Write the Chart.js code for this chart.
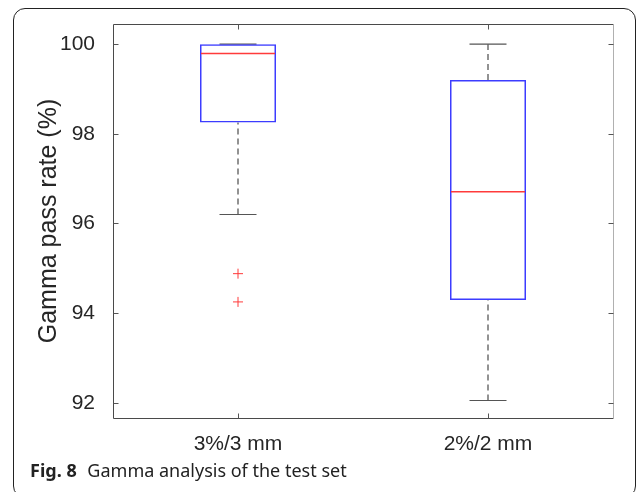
<!DOCTYPE html>
<html>
<head>
<meta charset="utf-8">
<script src="https://cdn.jsdelivr.net/npm/chart.js@4.4.1/dist/chart.umd.min.js"></script>
<style>
  html, body { margin: 0; padding: 0; background: #fff; width: 637px; height: 492px; overflow: hidden; }
  #frame {
    position: absolute; left: 13px; top: 8px; width: 623px; height: 490px;
    border: 1.5px solid #222; border-radius: 12px; box-sizing: border-box;
  }
  #wrap { position: absolute; left: 0; top: 0; width: 637px; height: 460px; }
  #caption {
    position: absolute; left: 30px; top: 460px;
    font-family: 'Noto Sans', 'Open Sans', sans-serif; font-size: 18px; line-height: 20px;
    color: #222; white-space: nowrap;
  }
  #caption b { font-weight: 700; margin-right: 6px; }
</style>
</head>
<body>
<div id="frame"></div>
<div id="wrap"><canvas id="gammaChart"></canvas></div>
<div id="caption"><b>Fig. 8</b> Gamma analysis of the test set</div>
<script>
// Box plot data
const categories = ['3%/3 mm', '2%/2 mm'];
const q1 = [98.25, 94.29];
const q3 = [100.0, 99.20];
const medians = [99.79, 96.71];
const whiskerLow = [96.20, 92.05];
const whiskerHigh = [100.0, 100.0];
const outliers = [[94.88, 94.25], []];
const yTicks = [92, 94, 96, 98, 100];

const axisFont = "'Liberation Sans', Arial, Helvetica, sans-serif";
const boxBlue = '#3c3cff';
const medianRed = '#ff3b3b';
const whiskerGray = '#6e6e6e';

// whisker segments, one dataset each (dashed)
const whiskerSets = [];
categories.forEach(function(c, i) {
    [[whiskerLow[i], q1[i]], [q3[i], whiskerHigh[i]]].forEach(function(seg) {
        whiskerSets.push({
            type: 'line',
            data: [{ x: c, y: seg[0] }, { x: c, y: seg[1] }],
            borderColor: whiskerGray,
            borderWidth: 1.5,
            borderDash: [6, 4],
            pointRadius: 0,
            order: 6
        });
    });
});

const outlierPoints = [];
categories.forEach(function(c, i) {
    outliers[i].forEach(function(v) { outlierPoints.push({ x: c, y: v }); });
});

// drop the extra room Chart.js reserves for tick label overflow
function noPad(scale) {
    scale.paddingTop = 0; scale.paddingBottom = 0;
    scale.paddingLeft = 0; scale.paddingRight = 0;
}

// MATLAB style axes box + inward ticks
const axesBox = {
    id: 'axesBox',
    afterDatasetsDraw(chart) {
        const ctx = chart.ctx;
        const a = chart.chartArea;
        const ys = chart.scales.y;
        const xs = chart.scales.x;
        const L = Math.round(a.left) + 0.5, R = Math.round(a.right) + 0.5;
        const T = Math.round(a.top) + 0.5, B = Math.round(a.bottom) + 0.5;
        ctx.save();
        ctx.lineWidth = 1;
        ctx.strokeStyle = '#4a4a4a';
        ctx.beginPath();
        ctx.moveTo(R, T); ctx.lineTo(L, T); ctx.lineTo(L, B); ctx.lineTo(R, B);
        ctx.stroke();
        ctx.strokeStyle = '#b0b0b0';
        ctx.beginPath();
        ctx.moveTo(R, T); ctx.lineTo(R, B);
        ctx.stroke();
        ctx.strokeStyle = '#555';
        ctx.beginPath();
        yTicks.forEach(function(v) {
            const y = Math.round(ys.getPixelForValue(v)) + 0.5;
            ctx.moveTo(L, y); ctx.lineTo(L + 5, y);
            ctx.moveTo(R, y); ctx.lineTo(R - 5, y);
        });
        categories.forEach(function(c, i) {
            const x = Math.round(xs.getPixelForValue(i)) + 0.5;
            ctx.moveTo(x, B); ctx.lineTo(x, B - 5);
            ctx.moveTo(x, T); ctx.lineTo(x, T + 5);
        });
        ctx.stroke();
        ctx.restore();
    }
};

new Chart(document.getElementById('gammaChart'), {
    type: 'bar',
    data: {
        labels: categories,
        datasets: [
            {
                label: 'box',
                data: categories.map(function(c, i) { return [q1[i], q3[i]]; }),
                backgroundColor: 'rgba(255,255,255,0)',
                borderColor: boxBlue,
                borderWidth: 1.5,
                borderSkipped: false,
                barPercentage: 0.304,
                categoryPercentage: 1.0,
                order: 2
            },
            {
                type: 'line',
                label: 'median',
                data: medians,
                showLine: false,
                pointStyle: 'line',
                pointRadius: 37,
                pointBorderColor: medianRed,
                pointBorderWidth: 1.5,
                order: 1
            },
            {
                type: 'line',
                label: 'lower cap',
                data: whiskerLow,
                showLine: false,
                pointStyle: 'line',
                pointRadius: 18.5,
                pointBorderColor: '#555',
                pointBorderWidth: 1.2,
                order: 3
            },
            {
                type: 'line',
                label: 'upper cap',
                data: whiskerHigh,
                showLine: false,
                pointStyle: 'line',
                pointRadius: 18.5,
                pointBorderColor: '#555',
                pointBorderWidth: 1.2,
                order: 5
            },
            {
                type: 'line',
                label: 'outliers',
                data: outlierPoints,
                showLine: false,
                pointStyle: 'cross',
                pointRadius: 5,
                pointBorderColor: medianRed,
                pointBorderWidth: 1,
                order: 1
            }
        ].concat(whiskerSets)
    },
    options: {
        responsive: true,
        maintainAspectRatio: false,
        animation: false,
        events: [],
        layout: { autoPadding: false, padding: { top: 24, right: 24, left: 0, bottom: 0 } },
        plugins: {
            legend: { display: false },
            tooltip: { enabled: false }
        },
        scales: {
            x: {
                offset: true,
                grid: { display: false },
                border: { display: false },
                ticks: {
                    color: '#262626',
                    padding: 6,
                    font: { family: axisFont, size: 21 }
                },
                afterFit: function(scale) { scale.height = 42; noPad(scale); }
            },
            y: {
                min: 91.66,
                max: 100.45,
                grid: { display: false },
                border: { display: false },
                afterBuildTicks: function(scale) {
                    scale.ticks = yTicks.map(function(v) { return { value: v }; });
                },
                ticks: {
                    color: '#262626',
                    padding: 10,
                    font: { family: axisFont, size: 21 }
                },
                title: {
                    display: true,
                    text: 'Gamma pass rate (%)',
                    color: '#262626',
                    font: { family: axisFont, size: 25 },
                    padding: { top: 34, bottom: 0 }
                },
                afterFit: function(scale) { scale.width = 113; noPad(scale); }
            }
        }
    },
    plugins: [axesBox]
});
</script>
</body>
</html>
